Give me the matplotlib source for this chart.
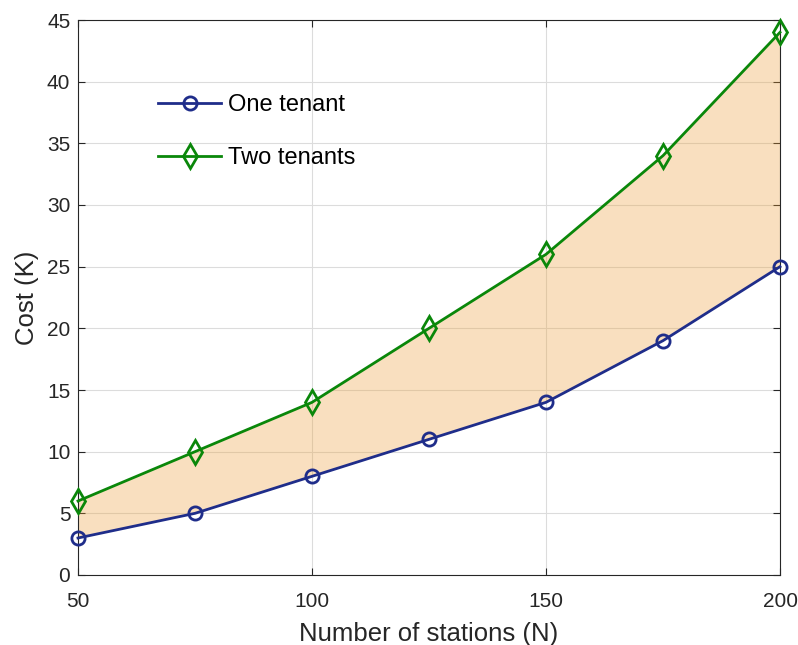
import matplotlib
matplotlib.use("Agg")
import matplotlib.pyplot as plt

stations = [50, 75, 100, 125, 150, 175, 200]
one_tenant = [3, 5, 8, 11, 14, 19, 25]
two_tenants = [6, 10, 14, 20, 26, 34, 44]
xticks = [50, 100, 150, 200]
yticks = [0, 5, 10, 15, 20, 25, 30, 35, 40, 45]

plt.rcParams['font.family'] = ['Liberation Sans', 'DejaVu Sans']

fig = plt.figure(figsize=(7.98, 6.45), dpi=100)
ax = fig.add_axes([78/798, 1 - 575/645, (780-78)/798, (575-20)/645])

ax.grid(True, color='#dcdcdc', linewidth=0.8, zorder=0)
ax.set_axisbelow(True)
ax.fill_between(stations, one_tenant, two_tenants, color=(0.93, 0.62, 0.22), alpha=0.32,
                linewidth=0, zorder=1)
ax.plot(stations, one_tenant, color='#1f2d8a', linewidth=2, marker='o', markersize=9.5,
        markerfacecolor='none', markeredgewidth=2, label='One tenant', zorder=3, clip_on=False)
ax.plot(stations, two_tenants, color='#0a870a', linewidth=2, marker='d', markersize=12,
        markerfacecolor='none', markeredgewidth=2, label='Two tenants', zorder=3, clip_on=False)

ax.set_xlim(50, 200)
ax.set_ylim(0, 45)
ax.set_xticks(xticks)
ax.set_yticks(yticks)
ax.tick_params(direction='in', top=True, right=True, labelsize=15, colors='#262626',
               length=5, width=0.8)
ax.tick_params(axis='x', pad=12)
ax.tick_params(axis='y', pad=5.5)
for s in ax.spines.values():
    s.set_color('#262626')
    s.set_linewidth(0.8)
ax.set_xlabel('Number of stations (N)', fontsize=18.5, color='#262626', labelpad=8.5)
ax.set_ylabel('Cost (K)', fontsize=18.5, color='#262626', labelpad=6)

leg = ax.legend(loc='upper left', bbox_to_anchor=(0.10, 0.883), frameon=False, fontsize=17,
                handlelength=2.7, handletextpad=0.3, labelspacing=1.3, borderaxespad=0)

fig.savefig('out.png', dpi=100)
